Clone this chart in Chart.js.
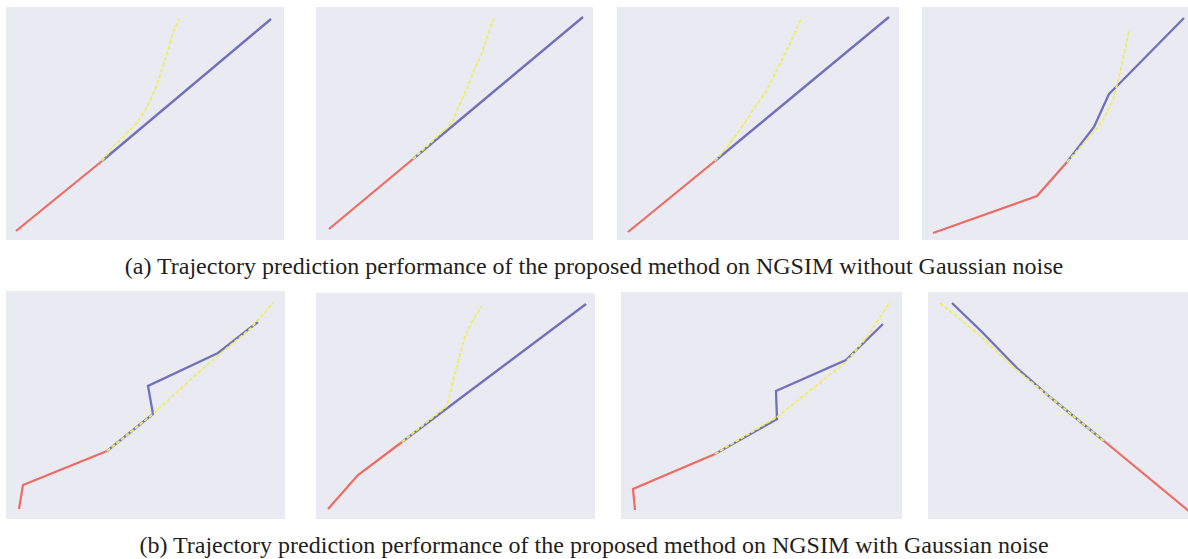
<!DOCTYPE html>
<html>
<head>
<meta charset="utf-8">
<script src="https://cdn.jsdelivr.net/npm/chart.js@4"></script>
<style>
  body { margin: 0; width: 1188px; height: 559px; background: #fff; position: relative; overflow: hidden; }
  .panel { position: absolute; }
  .caption { position: absolute; left: 0; width: 1188px; text-align: center; font-family: "Liberation Serif", serif; font-size: 24px; line-height: 28px; color: #231f20; }
</style>
</head>
<body>
<div class="panel" style="left:6px;top:7px"><canvas id="p1" width="278" height="233"></canvas></div>
<div class="panel" style="left:316px;top:7px"><canvas id="p2" width="277" height="233"></canvas></div>
<div class="panel" style="left:617px;top:7px"><canvas id="p3" width="282" height="233"></canvas></div>
<div class="panel" style="left:922px;top:7px"><canvas id="p4" width="266" height="233"></canvas></div>
<div class="panel" style="left:6px;top:291px"><canvas id="p5" width="279" height="228"></canvas></div>
<div class="panel" style="left:316px;top:293px"><canvas id="p6" width="279" height="226"></canvas></div>
<div class="panel" style="left:621px;top:292px"><canvas id="p7" width="281" height="227"></canvas></div>
<div class="panel" style="left:928px;top:292px"><canvas id="p8" width="260" height="227"></canvas></div>
<div class="caption" style="top:252px">(a) Trajectory prediction performance of the proposed method on NGSIM without Gaussian noise</div>
<div class="caption" style="top:531px">(b) Trajectory prediction performance of the proposed method on NGSIM with Gaussian noise</div>
<script>
// trajectories per panel: [x, y] in panel units (x right, y up)
// history (red), prediction (blue), ground truth (yellow)
const hist1 = [[10, 9], [96, 79]];
const pred1 = [[96, 79], [265, 221]];
const truth1 = [[96, 79], [107, 93], [121, 107], [131, 117], [141, 133], [149, 150], [156, 170], [162, 190], [167, 207], [173, 221]];

const hist2 = [[13, 11], [97, 81]];
const pred2 = [[97, 81], [267, 223]];
const truth2 = [[97, 81], [136, 117], [141, 130], [149, 147], [157, 167], [166, 187], [171, 203], [178, 222]];

const hist3 = [[11, 8], [98, 79]];
const pred3 = [[98, 79], [272, 223]];
const truth3 = [[98, 79], [110, 93], [123, 110], [136, 130], [150, 150], [160, 170], [170, 190], [178, 207], [184, 221]];

const hist4 = [[11, 7], [115, 44], [145, 78]];
const pred4 = [[145, 78], [172, 113], [187, 146], [196, 155], [262, 222]];
const truth4 = [[145, 78], [171, 107], [181, 120], [191, 140], [198, 167], [203, 190], [207, 209]];

const hist5 = [[13, 10], [17, 34], [101, 68]];
const pred5 = [[101, 68], [147, 105], [142, 133], [212, 166], [244, 191], [252, 197]];
const truth5 = [[101, 68], [147, 105], [194, 148], [227, 176], [244, 190], [267, 216]];

const hist6 = [[12, 10], [42, 44], [86, 77]];
const pred6 = [[86, 77], [270, 215]];
const truth6 = [[86, 77], [131, 113], [139, 146], [149, 182], [157, 199], [166, 213]];

const hist7 = [[14, 9], [12, 30], [94, 65]];
const pred7 = [[94, 65], [156, 100], [155, 128], [225, 159], [262, 195]];
const truth7 = [[94, 65], [156, 102], [225, 157], [246, 182], [269, 217]];

const hist8 = [[176, 78], [262, 7]];
const pred8 = [[24, 216], [54, 187], [89, 151], [122, 122], [176, 78]];
const truth8 = [[12, 216], [49, 186], [85, 152], [122, 122], [176, 78]];

const panels = [
    { id: 'p1', hist: hist1, pred: pred1, truth: truth1 },
    { id: 'p2', hist: hist2, pred: pred2, truth: truth2 },
    { id: 'p3', hist: hist3, pred: pred3, truth: truth3 },
    { id: 'p4', hist: hist4, pred: pred4, truth: truth4 },
    { id: 'p5', hist: hist5, pred: pred5, truth: truth5 },
    { id: 'p6', hist: hist6, pred: pred6, truth: truth6 },
    { id: 'p7', hist: hist7, pred: pred7, truth: truth7 },
    { id: 'p8', hist: hist8, pred: pred8, truth: truth8 }
];

const plotBackground = {
    id: 'plotBackground',
    beforeDraw(chart) {
        const { ctx, chartArea } = chart;
        ctx.save();
        ctx.fillStyle = '#eaeaf2';
        ctx.fillRect(chartArea.left, chartArea.top, chartArea.width, chartArea.height);
        ctx.restore();
    }
};

function renderPanel(p) {
    const canvas = document.getElementById(p.id);
    new Chart(canvas.getContext('2d'), {
        type: 'scatter',
        data: {
            datasets: [
                { data: p.truth, borderColor: '#eded62', borderWidth: 1.8, borderDash: [4, 2], showLine: true, pointRadius: 0, order: 0 },
                { data: p.pred, borderColor: '#7070bb', borderWidth: 2.3, showLine: true, pointRadius: 0, order: 1 },
                { data: p.hist, borderColor: '#ee6a62', borderWidth: 2.2, showLine: true, pointRadius: 0, order: 2 }
            ]
        },
        options: {
            responsive: false,
            animation: false,
            layout: { padding: 0 },
            plugins: { legend: { display: false }, tooltip: { enabled: false } },
            scales: {
                x: { type: 'linear', min: 0, max: canvas.width, display: false },
                y: { type: 'linear', min: 0, max: canvas.height, display: false }
            }
        },
        plugins: [plotBackground]
    });
}

panels.forEach(renderPanel);
</script>
</body>
</html>
